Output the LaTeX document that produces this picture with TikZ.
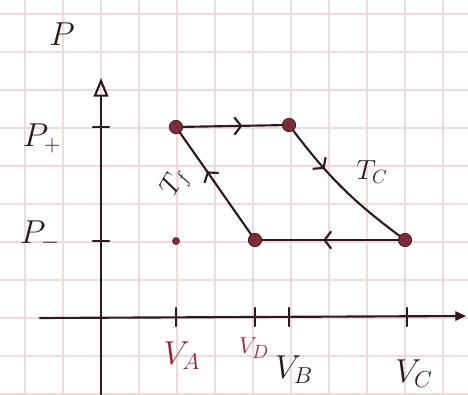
\documentclass[tikz,border=0pt]{standalone}
\usepackage{xcolor}
\usepackage{tikz}
\usetikzlibrary{arrows.meta, positioning, decorations.markings}
\definecolor{inkdark}{HTML}{2E1A1E}
\definecolor{inkred}{HTML}{A8283A}
\definecolor{gridpink}{HTML}{F0DADA}
\definecolor{dotfill}{HTML}{7E2C38}

\tikzset{
  state/.style={circle, fill=dotfill, draw=inkdark, line width=0.5pt, inner sep=0pt, minimum size=10pt},
  pen/.style={inkdark, line width=1.6pt, line cap=round},
  midarrow/.style={postaction={decorate}, decoration={markings,
      mark=at position #1 with {\arrow{Straight Barb[length=5pt,width=13pt]}}}},
  hand/.style={text=inkdark, font=\fontsize{24}{24}\selectfont, inner sep=1pt},
}

\begin{document}
\begin{tikzpicture}[x=0.75pt, y=0.75pt]
\useasboundingbox (0,0) rectangle (468,394);
\fill[white] (0,0) rectangle (468,394);
% squared paper
\foreach \gx in {25,63,...,463} \draw[gridpink, line width=0.9pt] (\gx,0) -- (\gx,394);
\foreach \gy in {0,38,...,394} \draw[gridpink, line width=0.9pt] (0,\gy) -- (468,\gy);

% axes
\coordinate (ybot) at (101,0);
\coordinate (ytop) at (101,316);
\coordinate (xleft) at (40,76);
\coordinate (xright) at (466,78);
\draw[pen, -{Triangle[open, length=14pt, width=11pt]}] (ybot) -- (ytop);
\draw[pen, -{Triangle[length=8pt, width=7pt]}] (xleft) -- (xright);

% ticks
\foreach \ty in {153,267} \draw[pen] (93,\ty) -- (109,\ty);
\foreach \tx in {176,255,289,407} \draw[pen] (\tx,68) -- (\tx,86);

% axis labels
\node[hand, font=\fontsize{40}{40}\selectfont] (pname) at (62,360) {$P$};
\node[hand] (pplus) at (42,256) {$P_+$};
\node[hand] (pminus) at (40,158) {$P_-$};
\node[hand, text=inkred!80!inkdark] (va) at (182,38) {$V_A$};
\node[hand, text=inkred, font=\fontsize{19}{19}\selectfont] (vd) at (254,46) {$V_D$};
\node[hand] (vb) at (294,24) {$V_B$};
\node[hand] (vc) at (414,20) {$V_C$};

% cycle
\node[state] (A) at (176,267) {};
\node[state] (B) at (289,269) {};
\node[state] (C) at (405,154) {};
\node[state] (D) at (255,154) {};
\node[state, minimum size=6pt, draw=none] (E) at (176,153) {};

\draw[pen, midarrow=0.6] (A) -- (B);
\draw[pen, midarrow=0.33] (B) to[bend right=8] (C);
\draw[pen, midarrow=0.55] (C) -- (D);
\draw[pen, midarrow=0.62] (D) -- (A);

\node[hand, font=\fontsize{22}{22}\selectfont] (tc) at (372,222) {$T_C$};
\node[hand, rotate=60, font=\fontsize{22}{22}\selectfont] (tf) at (176,211) {$T_f$};
\end{tikzpicture}
\end{document}
